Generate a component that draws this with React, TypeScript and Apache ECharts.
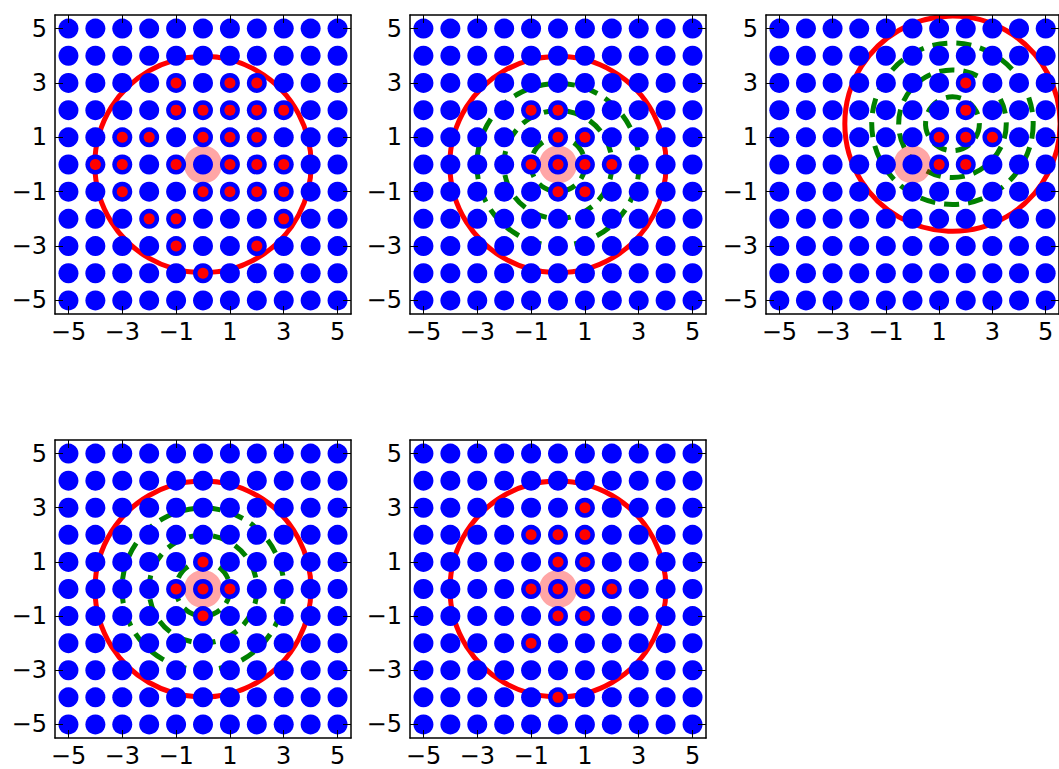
import React, { useEffect, useRef } from "react";
import * as echarts from "echarts";

// ---- data ----
const gridValues = [-5, -4, -3, -2, -1, 0, 1, 2, 3, 4, 5];
const tickValues = [-5, -3, -1, 1, 3, 5];
const axisMin = -5.5;
const axisMax = 5.5;

const redPoints1 = [
  [-1, 3], [1, 3], [2, 3],
  [-1, 2], [0, 2], [1, 2], [2, 2], [3, 2],
  [-3, 1], [-2, 1], [0, 1], [1, 1], [2, 1],
  [-4, 0], [-3, 0], [-1, 0], [1, 0], [2, 0], [3, 0],
  [-3, -1], [0, -1], [1, -1], [2, -1], [3, -1],
  [-2, -2], [-1, -2], [3, -2],
  [-1, -3], [2, -3],
  [0, -4],
];
const redPoints2 = [
  [-1, 2], [0, 2],
  [0, 1], [1, 1],
  [-1, 0], [0, 0], [1, 0], [2, 0],
  [0, -1], [1, -1],
];
const redPoints3 = [
  [2, 3],
  [2, 2],
  [1, 1], [2, 1], [3, 1],
  [1, 0], [2, 0],
];
const redPoints4 = [
  [0, 1],
  [-1, 0], [0, 0], [1, 0],
  [0, -1],
];
const redPoints5 = [
  [1, 3],
  [-1, 2], [0, 2], [1, 2],
  [0, 1], [1, 1],
  [-1, 0], [0, 0], [1, 0], [2, 0],
  [0, -1], [1, -1],
  [-1, -2],
  [0, -4],
];
const redPointsByPanel = [redPoints1, redPoints2, redPoints3, redPoints4, redPoints5];

const ringCenters = [[0, 0], [0, 0], [1.5, 1.5], [0, 0], [0, 0]];
const redRadius = 4;
const greenRadii = [[], [1, 2, 3], [1, 2, 3], [1, 2, 3], []];
const highlightCenter = [0, 0];

// ---- layout ----
const panelLefts = [55, 410, 766, 55, 410];
const panelTops = [15, 15, 15, 440, 440];
const panelW = 296;
const panelHs = [299, 299, 299, 298, 298];

const FONT = "DejaVu Sans";
const fmt = (v: number) => (v < 0 ? "\u2212" + Math.abs(v) : String(v));

function buildOption() {
  const grids: any[] = [];
  const xAxes: any[] = [];
  const yAxes: any[] = [];
  const series: any[] = [];

  const bluePoints: number[][] = [];
  gridValues.forEach((x) => gridValues.forEach((y) => bluePoints.push([x, y])));

  const axisBase = (gi: number, position: string, labels: boolean, margin: number) => ({
    type: "value",
    gridIndex: gi,
    position,
    min: axisMin,
    max: axisMax,
    z: 10,
    axisLine: { show: true, onZero: false, lineStyle: { color: "#000", width: 1.5 } },
    axisTick: {
      show: true,
      inside: true,
      length: 8,
      customValues: tickValues,
      lineStyle: { color: "#000", width: 1 },
    },
    axisLabel: {
      show: labels,
      customValues: tickValues,
      formatter: fmt,
      color: "#000",
      fontFamily: FONT,
      fontSize: 24,
      lineHeight: 24,
      margin,
    },
    splitLine: { show: false },
  });

  for (let i = 0; i < 5; i++) {
    grids.push({ left: panelLefts[i], top: panelTops[i], width: panelW, height: panelHs[i], containLabel: false });
    xAxes.push(axisBase(i, "bottom", true, 6));
    xAxes.push(axisBase(i, "top", false, 6));
    yAxes.push(axisBase(i, "left", true, 8));
    yAxes.push(axisBase(i, "right", false, 8));
    const xi = 2 * i;
    const yi = 2 * i;

    const ringData: any[] = [[ringCenters[i][0], ringCenters[i][1], redRadius, 0]];
    greenRadii[i].forEach((r) => ringData.push([ringCenters[i][0], ringCenters[i][1], r, 1]));

    series.push({
      type: "custom",
      xAxisIndex: xi,
      yAxisIndex: yi,
      z: 1,
      clip: true,
      silent: true,
      encode: { x: 0, y: 1 },
      data: ringData,
      renderItem: (params: any, api: any) => {
        const c = api.coord([api.value(0), api.value(1)]);
        const s = api.size([api.value(2), api.value(2)]);
        const dashed = api.value(3) === 1;
        return {
          type: "circle",
          shape: { cx: c[0], cy: c[1], r: (s[0] + s[1]) / 2 },
          style: {
            fill: "none",
            stroke: dashed ? "#008000" : "#ff0000",
            lineWidth: 5,
            lineDash: dashed ? [15, 9] : null,
          },
        };
      },
    });

    series.push({
      type: "scatter",
      xAxisIndex: xi,
      yAxisIndex: yi,
      z: 2,
      silent: true,
      symbolSize: 38,
      itemStyle: { color: "rgba(255,0,0,0.35)", opacity: 1 },
      data: [highlightCenter],
    });

    series.push({
      type: "scatter",
      xAxisIndex: xi,
      yAxisIndex: yi,
      z: 3,
      silent: true,
      symbolSize: 20,
      itemStyle: { color: "#0000ff", opacity: 1 },
      data: bluePoints,
    });

    series.push({
      type: "scatter",
      xAxisIndex: xi,
      yAxisIndex: yi,
      z: 4,
      silent: true,
      symbolSize: 11,
      itemStyle: { color: "#ff0000", opacity: 1 },
      data: redPointsByPanel[i],
    });
  }

  return {
    animation: false,
    backgroundColor: "#ffffff",
    grid: grids,
    xAxis: xAxes,
    yAxis: yAxes,
    series,
  };
}

export default function App() {
  const ref = useRef<HTMLDivElement>(null);
  useEffect(() => {
    if (!ref.current) return;
    const chart = echarts.init(ref.current, null, { renderer: "svg" });
    chart.setOption(buildOption() as any);
    return () => chart.dispose();
  }, []);
  return (
    <div
      ref={ref}
      style={{ position: "fixed", left: 0, top: 0, width: 1059, height: 769 }}
    />
  );
}
